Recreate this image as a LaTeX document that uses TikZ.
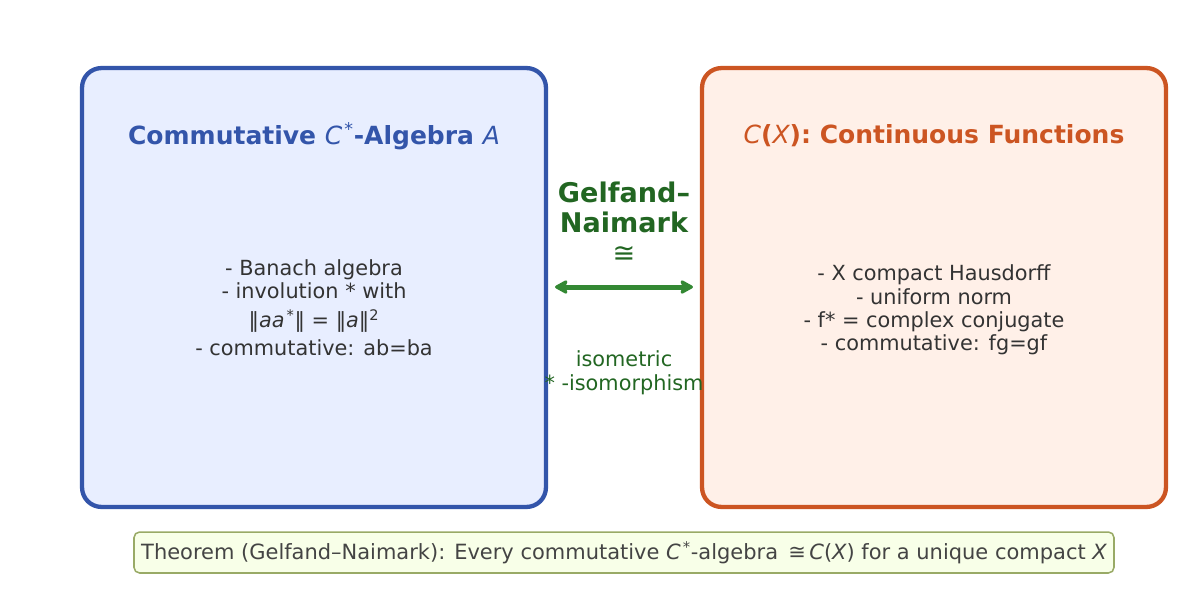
\documentclass[tikz,border=0pt]{standalone}
\usepackage{fontspec}
\setmainfont{DejaVu Sans}
\usetikzlibrary{positioning,arrows.meta}

\definecolor{algblue}{HTML}{3355AA}
\definecolor{algfill}{HTML}{E8EEFF}
\definecolor{funcorange}{HTML}{CC5522}
\definecolor{funcfill}{HTML}{FFF0E8}
\definecolor{gnggreen}{HTML}{226622}
\definecolor{arrgreen}{HTML}{338833}
\definecolor{thmfill}{HTML}{F8FFE8}
\definecolor{thmline}{HTML}{99AA66}
\definecolor{bodygray}{HTML}{333333}
\definecolor{thmgray}{HTML}{444444}

\newcommand{\mi}[1]{{\normalfont\itshape #1}}
\newcommand{\supst}{\kern1.5pt\textsuperscript{\normalfont*}}

\begin{document}
\begin{tikzpicture}[x=.72pt,y=-.72pt,>=Latex,
  panel/.style={rounded corners=14pt,line width=3.1pt,
    minimum width=334pt,minimum height=316pt},
  ptitle/.style={font=\fontsize{18}{21}\selectfont\bfseries},
  pbody/.style={align=center,text=bodygray,font=\fontsize{15}{16.8}\selectfont}]
 \useasboundingbox (0,0) rectangle (1192,607);
 % the two algebras
 \node[panel,draw=algblue,fill=algfill] (lbox) at (314,287.5) {};
 \node[panel,draw=funcorange,fill=funcfill] (rbox) at (934,287.5) {};
 \node[ptitle,text=algblue] (ltitle) at (314,136)
   {Commutative \mi{C}\supst-Algebra \mi{A}};
 \node[ptitle,text=funcorange] (rtitle) at (934,136)
   {\mi{C}(\mi{X}): Continuous Functions};
 \node[pbody] (lbody) at (314,308)
   {- Banach algebra\\- involution * with\\[4pt]
    ‖\mi{aa}\supst‖ = ‖\mi{a}‖\textsuperscript{2}\\[3.5pt]
    - commutative: ab=ba};
 \node[pbody] (rbody) at (934,310)
   {- X compact Hausdorff\\- uniform norm\\
    - f* = complex conjugate\\- commutative: fg=gf};
 % the isomorphism
 \draw[<->,arrgreen,line width=3.6pt,shorten <=5pt,shorten >=5pt,
   >={Stealth[length=11pt,width=12pt,inset=2.5pt,round]}]
   (lbox.east |- 0,287) -- (rbox.west |- 0,287);
 \node[align=center,text=gnggreen,font=\fontsize{19.5}{21.6}\selectfont]
   (gn) at (624,222) {\bfseries Gelfand–\\\bfseries Naimark\\≅};
 \node[align=center,text=gnggreen,font=\fontsize{15}{17.5}\selectfont]
   (iso) at (624,373) {isometric\\* -isomorphism};
 % statement
 \node[draw=thmline,fill=thmfill,line width=1.1pt,rounded corners=4pt,
   minimum width=705.6pt,minimum height=29.5pt,text=thmgray,
   font=\fontsize{15.1}{17}\selectfont] (thm) at (624,552.5)
   {Theorem (Gelfand–Naimark): Every commutative \mi{C}\supst-algebra
    \,≅\,\mi{C}(\mi{X}) for a unique compact \mi{X}};
\end{tikzpicture}
\end{document}
